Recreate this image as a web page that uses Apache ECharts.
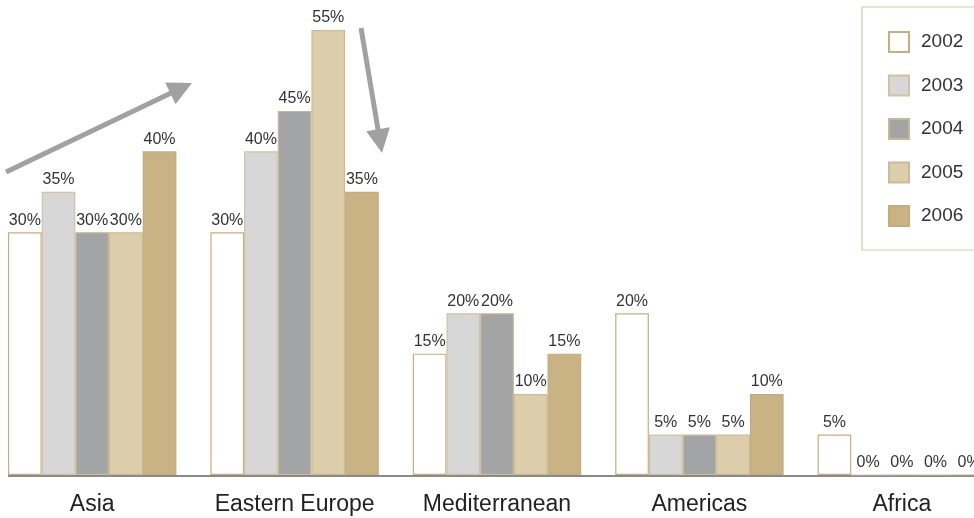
<!DOCTYPE html>
<html><head><meta charset="utf-8">
<script src="https://cdn.jsdelivr.net/npm/echarts@6/dist/echarts.min.js"></script>
<style>html,body{margin:0;padding:0;background:#fff}#c{width:974px;height:518px}</style>
</head><body><div id="c"></div>
<script>
var categories = ['Asia', 'Eastern Europe', 'Mediterranean', 'Americas', 'Africa'];
var years = ['2002', '2003', '2004', '2005', '2006'];
var v2002 = [30, 30, 15, 20, 5];
var v2003 = [35, 40, 20, 5, 0];
var v2004 = [30, 45, 20, 5, 0];
var v2005 = [30, 55, 10, 5, 0];
var v2006 = [40, 35, 15, 10, 0];
var values = [v2002, v2003, v2004, v2005, v2006];
var fills = ['#ffffff', '#d7d7d7', '#a3a4a6', '#dccdab', '#c9b385'];
var borders = ['#c9ad7c', '#cfc3a3', '#c7b894', '#cbbb95', '#c2ab7c'];

var chart = echarts.init(document.getElementById('c'));
var FONT = '"Liberation Sans", Arial, sans-serif';
var series = years.map(function (y, i) {
  return {
    name: y, type: 'bar', data: values[i],
    barGap: '0%', barCategoryGap: '16.8%',
    itemStyle: { color: fills[i], borderColor: borders[i], borderWidth: 1.2 },
    label: { show: true, position: 'top', distance: 4, formatter: '{c}%', color: '#333', fontSize: 16, fontFamily: FONT }
  };
});
chart.setOption({
  animation: false,
  grid: { left: -9, top: 30, width: 1012, height: 445, containLabel: false, outerBoundsMode: 'none' },
  xAxis: {
    type: 'category', data: categories,
    axisLine: { show: false }, axisTick: { show: false },
    axisLabel: { interval: 0, color: '#222', fontSize: 23, fontFamily: FONT, margin: 18 }
  },
  yAxis: { type: 'value', min: 0, max: 55, show: false, splitLine: { show: false } },
  legend: {
    orient: 'vertical', left: 862, top: 7,
    data: years,
    itemWidth: 20, itemHeight: 20, itemGap: 21.5,
    padding: [24, 40, 23, 26],
    borderColor: '#d9c9a3', borderWidth: 1.2, backgroundColor: '#fff',
    icon: 'rect',
    textStyle: { fontSize: 19, color: '#333', fontFamily: FONT, padding: [0, 0, 0, 7] }
  },
  series: series
});

var p0 = chart.convertToPixel({ gridIndex: 0 }, [0, 0]);
var base = p0[1];
function arrow(x1, y1, x2, y2) {
  var dx = x2 - x1, dy = y2 - y1, L = Math.sqrt(dx * dx + dy * dy);
  var ux = dx / L, uy = dy / L, hl = 24, hw = 12;
  var bx = x2 - ux * hl, by = y2 - uy * hl;
  return [
    { type: 'line', shape: { x1: x1, y1: y1, x2: bx + ux * 2, y2: by + uy * 2 }, style: { stroke: '#a1a1a1', lineWidth: 5 } },
    { type: 'polygon', shape: { points: [[x2, y2], [bx - uy * hw, by + ux * hw], [bx + uy * hw, by - ux * hw]] }, style: { fill: '#a1a1a1' } }
  ];
}
chart.setOption({
  graphic: [
    { type: 'line', shape: { x1: 8, y1: base + 1, x2: 974, y2: base + 1 }, style: { stroke: '#8a8a8a', lineWidth: 2 } }
  ].concat(arrow(6, 172, 192, 83)).concat(arrow(361, 28, 382, 153))
});
</script>
</body></html>
